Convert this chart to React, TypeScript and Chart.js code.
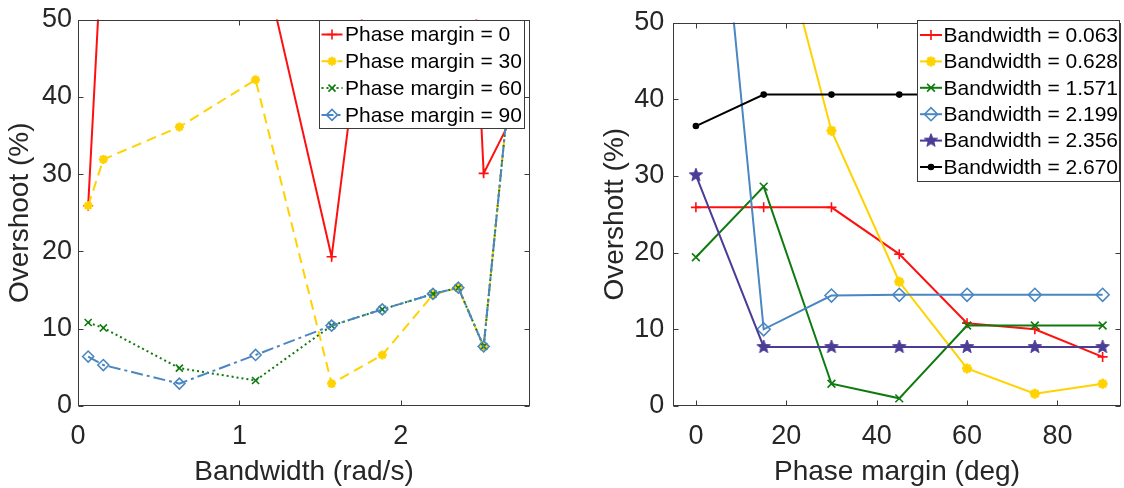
import React, { useEffect, useRef } from 'react';
import { Chart, registerables } from 'chart.js';

Chart.register(...registerables);

// ---------- data: left panel (overshoot vs bandwidth) ----------
const bandwidthLeft = [0.063, 0.157, 0.628, 1.1, 1.571, 1.885, 2.199, 2.356, 2.513, 2.67];
const overshootPm0 = [25.9, 63, 90, 62, 19.3, 71, 100, 99, 30.1, 36.6];
const overshootPm30 = [25.9, 31.9, 36.1, 42.2, 2.9, 6.6, 14.4, 15.3, 7.7, 40.7];
const overshootPm60 = [10.8, 10.1, 4.9, 3.3, 10.4, 12.5, 14.5, 15.3, 7.7, 40.7];
const overshootPm90 = [6.4, 5.3, 2.9, 6.6, 10.4, 12.5, 14.5, 15.3, 7.7, 40.7];
const leftLabels = ['Phase margin = 0', 'Phase margin = 30', 'Phase margin = 60', 'Phase margin = 90'];
const leftXTicks = [0, 1, 2];

// ---------- data: right panel (overshoot vs phase margin) ----------
const phaseMarginRight = [0, 15, 30, 45, 60, 75, 90];
const overshootBw0063 = [25.9, 25.9, 25.9, 19.8, 10.8, 10.0, 6.4];
const overshootBw0628 = [110, 69.5, 35.9, 16.2, 4.9, 1.6, 2.9];
const overshootBw1571 = [19.4, 28.6, 2.9, 1.0, 10.5, 10.5, 10.5];
const overshootBw2199 = [101, 10.0, 14.4, 14.5, 14.5, 14.5, 14.5];
const overshootBw2356 = [30.1, 7.7, 7.7, 7.7, 7.7, 7.7, 7.7];
const overshootBw2670 = [36.5, 40.6, 40.6, 40.6, 40.6, 40.6, 40.6];
const rightLabels = [
  'Bandwidth = 0.063',
  'Bandwidth = 0.628',
  'Bandwidth = 1.571',
  'Bandwidth = 2.199',
  'Bandwidth = 2.356',
  'Bandwidth = 2.670',
];
const rightXTicks = [0, 20, 40, 60, 80];
const yTicks = [0, 10, 20, 30, 40, 50];

const FONT = '"Liberation Sans", Arial, Helvetica, sans-serif';
const AXIS = '#3a3a3a';
const TEXT = '#262626';

const RED = '#ff1010';
const YELLOW = '#ffd200';
const GREEN = '#0f7a0f';
const BLUE = '#4a87c2';
const PURPLE = '#4b3c96';
const BLACK = '#000000';

function pts(xs: number[], ys: number[]) {
  return xs.map((x, i) => ({ x, y: ys[i] }));
}

function makePentagram(color: string, r: number) {
  const c = document.createElement('canvas');
  const s = Math.ceil(r * 2 + 4);
  c.width = s;
  c.height = s;
  const g = c.getContext('2d')!;
  const cx = s / 2;
  const cy = s / 2;
  const ri = r * 0.42;
  g.beginPath();
  for (let k = 0; k < 10; k++) {
    const rad = k % 2 === 0 ? r : ri;
    const a = -Math.PI / 2 + (k * Math.PI) / 5;
    const x = cx + rad * Math.cos(a);
    const y = cy + rad * Math.sin(a);
    if (k === 0) g.moveTo(x, y);
    else g.lineTo(x, y);
  }
  g.closePath();
  g.fillStyle = color;
  g.fill();
  g.lineWidth = 1;
  g.strokeStyle = color;
  g.stroke();
  return c;
}

function drawMarker(ctx: CanvasRenderingContext2D, style: any, x: number, y: number, r: number, stroke: string, fill: string, lw: number) {
  ctx.save();
  ctx.setLineDash([]);
  if (style && typeof style !== 'string') {
    ctx.drawImage(style, x - style.width / 2, y - style.height / 2);
    ctx.restore();
    return;
  }
  ctx.lineWidth = lw;
  ctx.strokeStyle = stroke;
  ctx.fillStyle = fill;
  ctx.beginPath();
  const d = r * Math.SQRT1_2;
  switch (style) {
    case 'cross':
      ctx.moveTo(x, y - r); ctx.lineTo(x, y + r);
      ctx.moveTo(x - r, y); ctx.lineTo(x + r, y);
      ctx.stroke();
      break;
    case 'crossRot':
      ctx.moveTo(x - d, y - d); ctx.lineTo(x + d, y + d);
      ctx.moveTo(x + d, y - d); ctx.lineTo(x - d, y + d);
      ctx.stroke();
      break;
    case 'star':
      ctx.moveTo(x, y - r); ctx.lineTo(x, y + r);
      ctx.moveTo(x - r, y); ctx.lineTo(x + r, y);
      ctx.moveTo(x - d, y - d); ctx.lineTo(x + d, y + d);
      ctx.moveTo(x + d, y - d); ctx.lineTo(x - d, y + d);
      ctx.stroke();
      break;
    case 'rectRot':
      ctx.moveTo(x - r, y); ctx.lineTo(x, y - r); ctx.lineTo(x + r, y); ctx.lineTo(x, y + r);
      ctx.closePath();
      ctx.fill();
      ctx.stroke();
      break;
    default:
      ctx.arc(x, y, r, 0, Math.PI * 2);
      ctx.fill();
      ctx.stroke();
  }
  ctx.restore();
}

// axes box with inward ticks (MATLAB style)
const boxPlugin = {
  id: 'matBox',
  afterDatasetsDraw(chart: any) {
    const { ctx, chartArea } = chart;
    const { left, right, top, bottom } = chartArea;
    const L = Math.round(left) + 0.5;
    const R = Math.round(right) - 0.5;
    const T = Math.round(top) + 0.5;
    const B = Math.round(bottom) - 0.5;
    ctx.save();
    ctx.strokeStyle = AXIS;
    ctx.lineWidth = 1;
    ctx.setLineDash([]);
    ctx.strokeRect(L, T, R - L, B - T);
    const tl = 5;
    ctx.beginPath();
    chart.scales.x.ticks.forEach((t: any) => {
      const px = Math.round(chart.scales.x.getPixelForValue(t.value)) + 0.5;
      ctx.moveTo(px, B); ctx.lineTo(px, B - tl);
      ctx.moveTo(px, T); ctx.lineTo(px, T + tl);
    });
    chart.scales.y.ticks.forEach((t: any) => {
      const py = Math.round(chart.scales.y.getPixelForValue(t.value)) + 0.5;
      ctx.moveTo(L, py); ctx.lineTo(L + tl, py);
      ctx.moveTo(R, py); ctx.lineTo(R - tl, py);
    });
    ctx.stroke();
    ctx.restore();
  },
};

const legendPlugin = {
  id: 'matLegend',
  afterDraw(chart: any, _args: any, opts: any) {
    if (!opts || !opts.box) return;
    const { ctx } = chart;
    const [bx, by, bw, bh] = opts.box;
    ctx.save();
    ctx.fillStyle = '#ffffff';
    ctx.fillRect(bx, by, bw, bh);
    ctx.strokeStyle = AXIS;
    ctx.lineWidth = 1;
    ctx.strokeRect(Math.round(bx) + 0.5, Math.round(by) + 0.5, Math.round(bw), Math.round(bh));
    chart.data.datasets.forEach((ds: any, i: number) => {
      const cy = opts.firstRow + i * opts.rowH;
      ctx.save();
      ctx.strokeStyle = ds.borderColor;
      ctx.lineWidth = ds.borderWidth;
      ctx.setLineDash(ds.borderDash || []);
      ctx.beginPath();
      ctx.moveTo(opts.lineX0, cy);
      ctx.lineTo(opts.lineX1, cy);
      ctx.stroke();
      ctx.restore();
      drawMarker(ctx, ds.pointStyle, (opts.lineX0 + opts.lineX1) / 2, cy, ds.pointRadius,
        ds.pointBorderColor, ds.pointBackgroundColor, ds.pointBorderWidth);
      ctx.fillStyle = '#000000';
      ctx.font = `${opts.fontSize}px ${FONT}`;
      ctx.textBaseline = 'middle';
      ctx.textAlign = 'left';
      ctx.fillText(ds.label, opts.textX, cy + 1);
    });
    ctx.restore();
  },
};

function baseScales(xMin: number, xMax: number, xTicks: number[], xTitle: string, yAxisWidth: number, yTitlePad: number, yTickPad: number) {
  return {
    x: {
      type: 'linear',
      min: xMin,
      max: xMax,
      afterBuildTicks: (s: any) => { s.ticks = xTicks.map((v) => ({ value: v })); },
      afterFit: (s: any) => { s.height = 82; },
      grid: { display: false, drawTicks: false },
      border: { display: false },
      ticks: {
        font: { family: FONT, size: 27, lineHeight: 1 },
        color: TEXT,
        padding: 17,
        maxRotation: 0,
        autoSkip: false,
        callback: (v: any) => String(v),
      },
      title: {
        display: true,
        text: xTitle,
        color: TEXT,
        font: { family: FONT, size: 28, lineHeight: 1 },
        padding: { top: 0, bottom: 2 },
      },
    },
    y: {
      type: 'linear',
      min: 0,
      max: 50,
      afterBuildTicks: (s: any) => { s.ticks = yTicks.map((v) => ({ value: v })); },
      afterFit: (s: any) => { s.width = yAxisWidth; },
      grid: { display: false, drawTicks: false },
      border: { display: false },
      ticks: {
        font: { family: FONT, size: 27, lineHeight: 1 },
        color: TEXT,
        padding: yTickPad,
        autoSkip: false,
        callback: (v: any) => String(v),
      },
      title: {
        display: true,
        text: '',
        color: TEXT,
        font: { family: FONT, size: 28, lineHeight: 1 },
        padding: { top: yTitlePad, bottom: 0 },
      },
    },
  };
}

function ds(label: string, data: any[], color: string, style: any, radius: number, extra: any = {}) {
  return {
    label,
    data,
    borderColor: color,
    backgroundColor: color,
    borderWidth: 2,
    pointStyle: style,
    pointRadius: radius,
    pointHoverRadius: radius,
    pointBorderColor: color,
    pointBackgroundColor: color,
    pointBorderWidth: 1.6,
    tension: 0,
    fill: false,
    ...extra,
  };
}

export default function App() {
  const leftRef = useRef<HTMLCanvasElement>(null);
  const rightRef = useRef<HTMLCanvasElement>(null);

  useEffect(() => {
    const pent = makePentagram(PURPLE, 7);

    const leftDatasets = [
      ds(leftLabels[0], pts(bandwidthLeft, overshootPm0), RED, 'cross', 5, { order: 3 }),
      ds(leftLabels[1], pts(bandwidthLeft, overshootPm30), YELLOW, 'star', 4.5, { borderDash: [10, 6], pointBorderWidth: 2.5, order: 2 }),
      ds(leftLabels[2], pts(bandwidthLeft, overshootPm60), GREEN, 'crossRot', 5, { borderDash: [2, 3], order: 1 }),
      ds(leftLabels[3], pts(bandwidthLeft, overshootPm90), BLUE, 'rectRot', 5.5, { borderDash: [12, 4, 3, 4], pointBackgroundColor: 'rgba(0,0,0,0)', order: 0 }),
    ];

    const leftScales: any = baseScales(0, 2.8, leftXTicks, 'Bandwidth (rad/s)', 78, 6, 6);
    leftScales.y.title.text = 'Overshoot (%)';

    const left = new Chart(leftRef.current!, {
      type: 'line',
      data: { datasets: leftDatasets as any },
      options: {
        animation: false,
        responsive: false,
        events: [],
        layout: { autoPadding: false, padding: { left: 0, top: 14, right: 30, bottom: 0 } },
        plugins: {
          legend: { display: false },
          tooltip: { enabled: false },
          matLegend: {
            box: [319, 20, 205, 108],
            firstRow: 34.5,
            rowH: 26.8,
            lineX0: 321.5,
            lineX1: 342.5,
            textX: 345,
            fontSize: 21,
          },
        } as any,
        scales: leftScales,
      },
      plugins: [boxPlugin, legendPlugin],
    });

    const rightDatasets = [
      ds(rightLabels[0], pts(phaseMarginRight, overshootBw0063), RED, 'cross', 5, { order: 5 }),
      ds(rightLabels[1], pts(phaseMarginRight, overshootBw0628), YELLOW, 'star', 5, { pointBorderWidth: 2.8, order: 4 }),
      ds(rightLabels[2], pts(phaseMarginRight, overshootBw1571), GREEN, 'crossRot', 5.5, { order: 3 }),
      ds(rightLabels[3], pts(phaseMarginRight, overshootBw2199), BLUE, 'rectRot', 6.5, { pointBackgroundColor: 'rgba(0,0,0,0)', order: 2 }),
      ds(rightLabels[4], pts(phaseMarginRight, overshootBw2356), PURPLE, pent, 7, { order: 1 }),
      ds(rightLabels[5], pts(phaseMarginRight, overshootBw2670), BLACK, 'circle', 2.5, { order: 0 }),
    ];

    const rightScales: any = baseScales(-5, 94, rightXTicks, 'Phase margin (deg)', 113.3, 41, 9);
    rightScales.y.title.text = 'Overshott (%)';

    const right = new Chart(rightRef.current!, {
      type: 'line',
      data: { datasets: rightDatasets as any },
      options: {
        animation: false,
        responsive: false,
        events: [],
        layout: { autoPadding: false, padding: { left: 0, top: 14, right: 3.3, bottom: 0 } },
        plugins: {
          legend: { display: false },
          tooltip: { enabled: false },
          matLegend: {
            box: [357, 19.5, 202, 160.5],
            firstRow: 35,
            rowH: 26.4,
            lineX0: 360,
            lineX1: 382,
            textX: 383.5,
            fontSize: 21,
          },
        } as any,
        scales: rightScales,
      },
      plugins: [boxPlugin, legendPlugin],
    });

    return () => {
      left.destroy();
      right.destroy();
    };
  }, []);

  return (
    <div style={{ position: 'absolute', left: 0, top: 0, width: 1124, height: 488, background: '#ffffff', overflow: 'hidden' }}>
      <canvas ref={leftRef} width={560} height={488} style={{ position: 'absolute', left: 0, top: 0, width: 560, height: 488 }} />
      <canvas ref={rightRef} width={564} height={488} style={{ position: 'absolute', left: 560, top: 0, width: 564, height: 488 }} />
    </div>
  );
}
